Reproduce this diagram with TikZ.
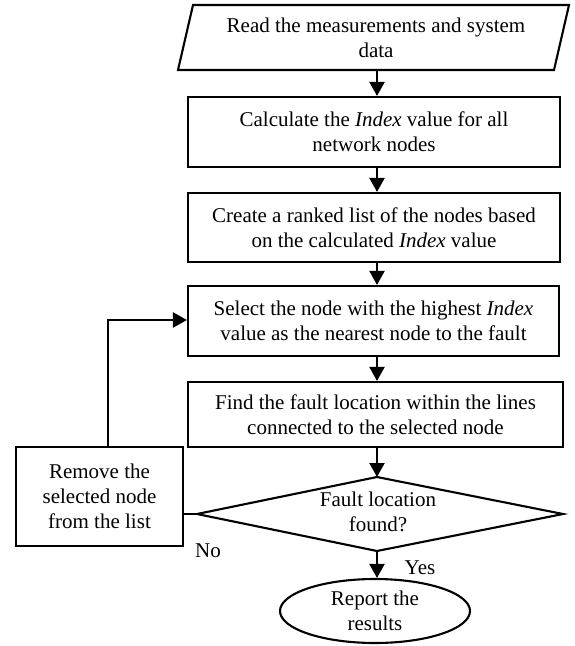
\documentclass[tikz,border=0pt]{standalone}
\usepackage{fontspec}
\setmainfont{Liberation Serif}
\usetikzlibrary{arrows.meta,shapes.geometric}
\begin{document}
\begin{tikzpicture}[x=1pt,y=-1pt,
  every node/.style={font=\fontsize{21}{25}\selectfont, align=center, inner sep=0pt},
  proc/.style={draw, line width=2.1pt, rectangle},
  arr/.style={line width=2.1pt, -{Triangle[length=14pt,width=15pt]}},
  conn/.style={line width=2.1pt}]
\useasboundingbox (0,0) rectangle (575,646);
\fill[white] (0,0) rectangle (575,646);
% input parallelogram
\coordinate (p1) at (193,5);
\coordinate (p2) at (569,5);
\coordinate (p3) at (554,70);
\coordinate (p4) at (178,70);
\draw[line width=2.1pt, line join=miter] (p1) -- (p2) -- (p3) -- (p4) -- cycle;
\node[minimum width=376pt, minimum height=65pt] (read) at (376,37.5) {Read the measurements and system\\data};
% process boxes
\node[proc, minimum width=372pt, minimum height=70pt] (calc) at (374,132) {Calculate the \textit{Index} value for all\\network nodes};
\node[proc, minimum width=372pt, minimum height=69pt] (rank) at (374,227.5) {Create a ranked list of the nodes based\\on the calculated \textit{Index} value};
\node[proc, minimum width=371pt, minimum height=70pt] (sel) at (373.5,321) {Select the node with the highest \textit{Index}\\value as the nearest node to the fault};
\node[proc, minimum width=375pt, minimum height=65pt] (find) at (375.5,414.5) {Find the fault location within the lines\\connected to the selected node};
% decision
\coordinate (dN) at (377,477);
\coordinate (dE) at (563,514);
\coordinate (dS) at (377,551);
\coordinate (dW) at (197,514);
\draw[line width=2.1pt, line join=miter] (dN) -- (dE) -- (dS) -- (dW) -- cycle;
\node (dec) at (378,512) {Fault location\\found?};
% terminal
\node[ellipse, draw, line width=2.1pt, minimum width=190pt, minimum height=64pt] (rep) at (375,611) {Report the\\results};
% remove box
\node[proc, minimum width=167pt, minimum height=99pt] (rem) at (99.5,496.5) {Remove the\\selected node\\from the list};
% labels
\node (no) at (208,551) {No};
\node (yes) at (420,568) {Yes};
% connectors
\coordinate (fb) at (108,320);
\draw[arr] (read.south -| dN) -- (calc.north -| dN);
\draw[arr] (calc.south -| dN) -- (rank.north -| dN);
\draw[arr] (rank.south -| dN) -- (sel.north -| dN);
\draw[arr] (sel.south -| dN) -- (find.north -| dN);
\draw[arr] (find.south -| dN) -- (dN);
\draw[arr] (dS) -- (rep.north -| dS);
\draw[conn] (dW) -- (dW -| rem.east);
\draw[arr] (rem.north -| fb) |- (sel.west |- fb);
\end{tikzpicture}
\end{document}
